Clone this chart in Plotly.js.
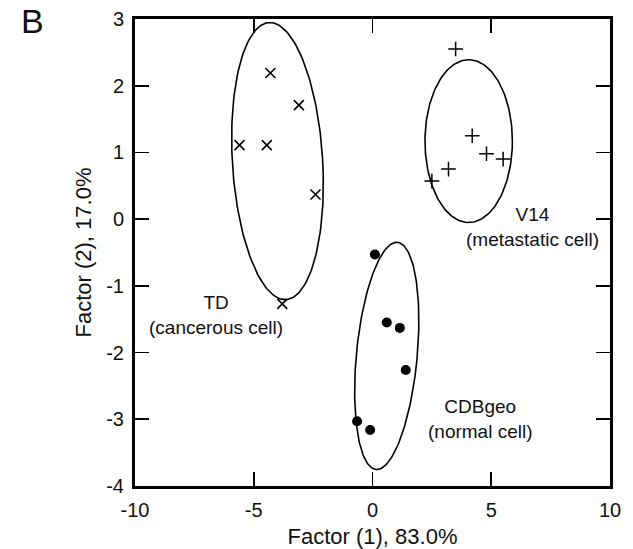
<!DOCTYPE html>
<html>
<head>
<meta charset="utf-8">
<script src="https://cdn.plot.ly/plotly-3.0.1.min.js"></script>
<style>html,body{margin:0;padding:0;background:#fff;}</style>
</head>
<body>
<div id="chart" style="width:633px;height:549px;"></div>
<script>
// Factor scores per cell line
const tdX = [-4.3, -3.1, -5.6, -4.45, -2.4, -3.8];
const tdY = [2.19, 1.71, 1.11, 1.11, 0.37, -1.27];
const v14X = [3.5, 4.2, 4.8, 5.5, 3.2, 2.5];
const v14Y = [2.55, 1.25, 0.98, 0.9, 0.75, 0.57];
const cdbX = [0.1, 0.6, 1.15, 1.4, -0.65, -0.1];
const cdbY = [-0.53, -1.55, -1.63, -2.26, -3.03, -3.16];

// Group ellipses: centre, half-width (x units), half-height (y units), lean in degrees
const ellCx = [-4.0, 4.05, 0.6];
const ellCy = [0.87, 1.17, -2.05];
const ellHx = [1.9, 1.84, 1.28];
const ellHy = [2.08, 1.22, 1.71];
const ellTilt = [-3.5, 0, 5.4];

// Group annotations
const labelText = ['TD<br>(cancerous cell)', 'V14<br>(metastatic cell)', 'CDBgeo<br>(normal cell)'];
const labelX = [-6.6, 6.72, 4.54];
const labelY = [-1.44, -0.12, -3.0];

// Tick values and their printed labels (plain hyphen minus)
const xTickVals = [-10, -5, 0, 5, 10];
const xTickText = ['-10', '-5', '0', '5', '10'];
const yTickVals = [-4, -3, -2, -1, 0, 1, 2, 3];
const yTickText = ['-4', '-3', '-2', '-1', '0', '1', '2', '3'];

const W = 633, H = 549;
const M = {l: 135, r: 23, t: 19, b: 63};
const xRange = [-10, 10], yRange = [-4, 3];
const sx = (W - M.l - M.r) / (xRange[1] - xRange[0]);
const sy = (H - M.t - M.b) / (yRange[1] - yRange[0]);

function ellipse(i) {
  const xs = [], ys = [];
  const th = ellTilt[i] * Math.PI / 180;
  const a = ellHx[i] * sx, b = ellHy[i] * sy;
  for (let k = 0; k <= 180; k++) {
    const t = 2 * Math.PI * k / 180;
    const u = a * Math.cos(t), v = b * Math.sin(t);
    // rotate in screen space (y up), positive tilt leans the top to the right
    const pu = u * Math.cos(th) + v * Math.sin(th);
    const pv = -u * Math.sin(th) + v * Math.cos(th);
    xs.push(ellCx[i] + pu / sx);
    ys.push(ellCy[i] + pv / sy);
  }
  return {x: xs, y: ys, mode: 'lines', line: {color: '#000', width: 1.6}, hoverinfo: 'skip', showlegend: false};
}

const traces = [
  ellipse(0), ellipse(1), ellipse(2),
  {x: tdX, y: tdY, mode: 'markers', marker: {symbol: 'x-thin', size: 10, line: {color: '#000', width: 1.6}}, showlegend: false},
  {x: v14X, y: v14Y, mode: 'markers', marker: {symbol: 'cross-thin', size: 10.5, line: {color: '#000', width: 1.5}}, showlegend: false},
  {x: cdbX, y: cdbY, mode: 'markers', marker: {symbol: 'circle', size: 10, color: '#000'}, showlegend: false}
];

const font = {family: 'Liberation Sans, Arial, sans-serif', color: '#111'};

const annotations = labelText.map((t, i) => ({
  x: labelX[i], y: labelY[i], xref: 'x', yref: 'y', text: t, showarrow: false,
  font: Object.assign({size: 19}, font), align: 'center'
}));
// panel letter
annotations.push({
  x: (32 - M.l) / (W - M.l - M.r), y: 1 + (M.t - 21) / (H - M.t - M.b),
  xref: 'paper', yref: 'paper', text: 'B', showarrow: false,
  xanchor: 'center', yanchor: 'middle', font: Object.assign({size: 34}, font)
});

const axisCommon = {
  showgrid: false, zeroline: false, showline: true, linecolor: '#000', linewidth: 3,
  mirror: 'allticks', ticks: 'inside', ticklen: 14, tickwidth: 1.6, tickcolor: '#000',
  tickfont: Object.assign({size: 20}, font), tickmode: 'array'
};

const layout = {
  width: W, height: H, margin: M,
  paper_bgcolor: '#fff', plot_bgcolor: '#fff',
  xaxis: Object.assign({}, axisCommon, {
    range: xRange, tickvals: xTickVals, ticktext: xTickText, ticklabelstandoff: 4,
    title: {text: 'Factor (1), 83.0%', font: Object.assign({size: 22}, font), standoff: 10}
  }),
  yaxis: Object.assign({}, axisCommon, {
    range: yRange, tickvals: yTickVals, ticktext: yTickText, ticklabelstandoff: 4,
    title: {text: 'Factor (2), 17.0%', font: Object.assign({size: 22}, font), standoff: 9}
  }),
  annotations: annotations,
  showlegend: false
};

Plotly.newPlot('chart', traces, layout, {displayModeBar: false, staticPlot: true});
</script>
</body>
</html>
